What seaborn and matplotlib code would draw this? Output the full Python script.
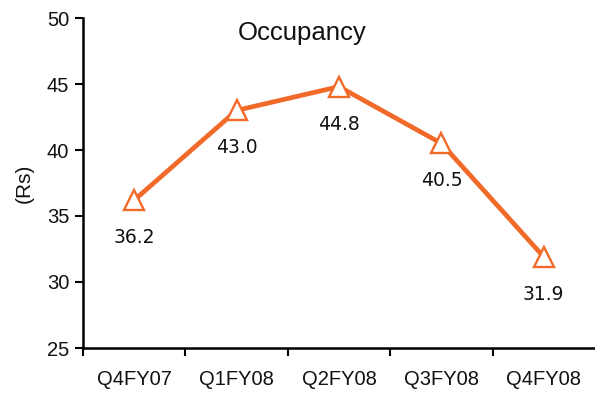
import matplotlib
matplotlib.use("Agg")
import matplotlib.pyplot as plt
import seaborn as sns
import pandas as pd
from matplotlib.ticker import FixedLocator

quarters = ["Q4FY07", "Q1FY08", "Q2FY08", "Q3FY08", "Q4FY08"]
occupancy = [36.2, 43.0, 44.8, 40.5, 31.9]
y_ticks = [25, 30, 35, 40, 45, 50]

ORANGE = "#F26A2A"
sns.set_theme(style="white")
plt.rcParams["font.family"] = ["Liberation Sans", "DejaVu Sans"]

df = pd.DataFrame({"quarter": quarters, "occupancy": occupancy})

fig = plt.figure(figsize=(5.95, 3.94), dpi=100)
ax = fig.add_axes([83 / 595, 1 - 348 / 394, 1 - 83 / 595, 330 / 394])

sns.lineplot(data=df, x="quarter", y="occupancy", ax=ax, sort=False,
             color=ORANGE, linewidth=3.4, marker="^", markersize=14,
             markerfacecolor="white", markeredgecolor=ORANGE,
             markeredgewidth=1.7)

for i, v in enumerate(occupancy):
    ax.annotate(f"{v:.1f}", (i, v), xytext=(0, -27), textcoords="offset points",
                ha="center", va="center", fontsize=13.5, family="DejaVu Sans",
                color="#111111")

ax.set_xlim(-0.5, 4.5)
ax.set_ylim(25, 50)
ax.set_yticks(y_ticks)
ax.set_xticks(range(len(quarters)))
ax.set_xticklabels(quarters)
ax.xaxis.set_minor_locator(FixedLocator([-0.5, 0.5, 1.5, 2.5, 3.5]))
ax.tick_params(axis="x", which="major", length=0, pad=16, labelsize=14.5,
               labelcolor="#111111")
ax.tick_params(axis="x", which="minor", length=6, width=1.5, color="black",
               direction="out", bottom=True)
ax.tick_params(axis="y", length=6, width=1.5, color="black", direction="out",
               left=True, pad=4, labelsize=14.5, labelcolor="#111111")

ax.set_xlabel("")
ax.set_ylabel("(Rs)", fontsize=15, color="#111111", labelpad=9)

for side in ["top", "right"]:
    ax.spines[side].set_visible(False)
for side in ["left", "bottom"]:
    ax.spines[side].set_color("black")
    ax.spines[side].set_linewidth(1.8)

ax.text(0.428, 0.955, "Occupancy", transform=ax.transAxes, ha="center",
        va="center", fontsize=18.5, color="#111111")

fig.savefig("out.png", dpi=100)
